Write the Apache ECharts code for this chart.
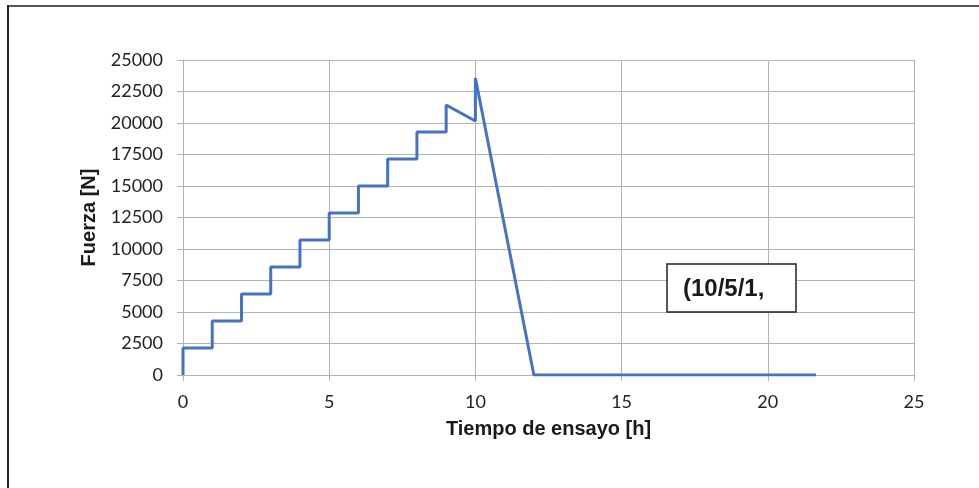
<!DOCTYPE html>
<html>
<head>
<meta charset="utf-8">
<script src="https://cdn.jsdelivr.net/npm/echarts@6/dist/echarts.min.js"></script>
<style>
html,body{margin:0;padding:0;background:#fff;}
#c{width:979px;height:488px;}
</style>
</head>
<body>
<div id="c"></div>
<script>
// Time [h] and force [N] of the loading path
const tiempo = [0, 0, 1, 1, 2, 2, 3, 3, 4, 4, 5, 5, 6, 6, 7, 7, 8, 8, 9, 9, 10, 10, 12, 21.65];
const fuerza = [0, 2140, 2140, 4290, 4290, 6420, 6420, 8570, 8570, 10710, 10710, 12860, 12860, 15000, 15000, 17140, 17140, 19290, 19290, 21430, 20160, 23570, 0, 0];
const xTicks = [0, 5, 10, 15, 20, 25];
const yTicks = [0, 2500, 5000, 7500, 10000, 12500, 15000, 17500, 20000, 22500, 25000];
const xName = 'Tiempo de ensayo [h]';
const yName = 'Fuerza [N]';
const boxText = '(10/5/1,';

const chart = echarts.init(document.getElementById('c'), null, {renderer: 'canvas'});
const pts = tiempo.map((t, i) => [t, fuerza[i]]);
const gridColor = '#b3b3b3';
const labelFont = 'Lato, "Open Sans", sans-serif';
const nameFont = '"Liberation Sans", Arial, sans-serif';

chart.setOption({
  animation: false,
  backgroundColor: '#fff',
  grid: {left: 183, right: 65, top: 60, bottom: 113, containLabel: false},
  xAxis: {
    type: 'value',
    min: xTicks[0], max: xTicks[xTicks.length - 1], interval: 5,
    name: xName, nameLocation: 'middle', nameGap: 54,
    nameTextStyle: {fontFamily: nameFont, fontWeight: 'bold', fontSize: 20, color: '#1a1a1a', verticalAlign: 'middle'},
    axisLine: {show: true, lineStyle: {color: gridColor, width: 1}},
    axisTick: {show: true, length: 6, lineStyle: {color: gridColor}},
    axisLabel: {fontFamily: labelFont, fontSize: 18, color: '#222', margin: 18, formatter: v => String(v)},
    splitLine: {show: true, lineStyle: {color: gridColor, width: 1}}
  },
  yAxis: {
    type: 'value',
    min: yTicks[0], max: yTicks[yTicks.length - 1], interval: 2500,
    name: yName, nameLocation: 'middle', nameGap: 90, nameRotate: 90,
    nameTextStyle: {fontFamily: nameFont, fontWeight: 'bold', fontSize: 20, color: '#1a1a1a', verticalAlign: 'middle'},
    axisLine: {show: true, lineStyle: {color: gridColor, width: 1}},
    axisTick: {show: true, length: 6, lineStyle: {color: gridColor}},
    axisLabel: {fontFamily: labelFont, fontSize: 18, color: '#222', margin: 20, formatter: v => String(v)},
    splitLine: {show: true, lineStyle: {color: gridColor, width: 1}}
  },
  series: [{
    type: 'line',
    data: pts,
    showSymbol: false,
    symbol: 'none',
    lineStyle: {color: '#4472C4', width: 3},
    z: 5
  }],
  graphic: [
    {type: 'line', shape: {x1: 8, y1: 6, x2: 979, y2: 6}, style: {stroke: '#555', lineWidth: 2}},
    {type: 'line', shape: {x1: 8, y1: 5, x2: 8, y2: 488}, style: {stroke: '#222', lineWidth: 2}},
    {type: 'rect', z: 10, shape: {x: 667, y: 264, width: 129, height: 48}, style: {fill: '#fff', stroke: '#222', lineWidth: 1.5}},
    {type: 'text', z: 11, x: 683, y: 289, style: {text: boxText, fontFamily: nameFont, fontWeight: 'bold', fontSize: 24, fill: '#1a1a1a', verticalAlign: 'middle', align: 'left'}}
  ]
});
</script>
</body>
</html>
